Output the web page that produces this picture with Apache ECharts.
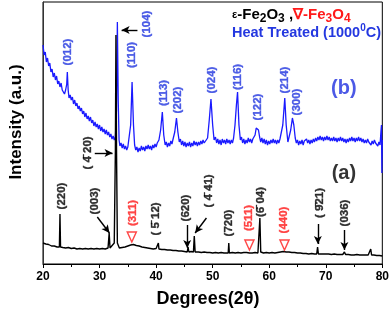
<!DOCTYPE html>
<html><head><meta charset="utf-8">
<script src="https://cdn.jsdelivr.net/npm/echarts@6/dist/echarts.min.js"></script>
<style>html,body{margin:0;padding:0;background:#fff}#c{width:392px;height:313px}</style>
</head><body><div id="c"></div>
<script>
// x tick labels
const xTicks = [20, 30, 40, 50, 60, 70, 80];
// Heat treated sample (b), [2theta, intensity a.u.]
const seriesB = [
[20.0,219],[20.2,209],[20.4,212],[20.6,202],[20.8,206],[21.0,198],[21.2,201],[21.4,192],[21.6,195],[21.8,187],
[22.0,191],[22.2,184],[22.4,188],[22.6,180],[22.8,183],[23.0,177],[23.2,181],[23.4,174],[23.6,176],[23.8,170],
[24.0,174],[24.2,180],[24.3,192],[24.45,174],[24.6,166],[24.8,169],[25.0,164],[25.2,167],[25.4,160],[25.6,164],
[25.8,158],[26.0,161],[26.2,155],[26.4,158],[26.6,153],[26.8,156],[27.0,150],[27.2,153],[27.4,147],[27.6,151],
[27.8,145],[28.0,148],[28.2,143],[28.4,147],[28.6,141],[28.8,144],[29.0,138],[29.2,142],[29.4,137],[29.6,140],
[29.8,135],[30.0,139],[30.2,133],[30.4,137],[30.6,132],[30.8,135],[31.0,130],[31.2,134],[31.4,129],[31.6,132],
[31.8,127],[32.0,130],[32.2,125],[32.4,128],[32.6,124],[32.8,127],[33.0,154],[33.15,242],[33.3,164],[33.45,124],
[33.6,118],[33.8,121],[34.0,116],[34.2,120],[34.4,115],[34.6,118],[34.8,114],[35.0,117],[35.2,119],[35.5,139],
[35.75,182],[36.0,139],[36.2,119],[36.4,114],[36.6,117],[36.8,112],[37.0,116],[37.2,113],[37.4,118],[37.6,114],
[37.8,117],[38.0,113],[38.2,118],[38.4,115],[38.6,119],[38.8,115],[39.0,118],[39.2,114],[39.4,119],[39.6,116],
[39.8,120],[40.0,117],[40.2,121],[40.5,124],[40.8,134],[41.1,152],[41.35,129],[41.6,119],[41.8,122],[42.0,117],
[42.2,121],[42.4,118],[42.6,123],[42.8,120],[43.0,125],[43.3,132],[43.6,146],[43.85,132],[44.1,122],[44.3,125],
[44.5,119],[44.7,123],[44.9,118],[45.1,122],[45.3,117],[45.5,121],[45.7,118],[45.9,122],[46.1,117],[46.3,121],
[46.5,118],[46.7,123],[46.9,119],[47.1,122],[47.3,118],[47.5,122],[47.7,119],[47.9,123],[48.1,120],[48.3,124],
[48.5,121],[48.8,122],[49.1,126],[49.4,144],[49.7,165],[50.0,139],[50.25,124],[50.5,127],[50.7,121],[50.9,125],
[51.1,120],[51.3,124],[51.5,119],[51.7,125],[51.9,121],[52.1,124],[52.3,120],[52.5,125],[52.7,121],[52.9,124],
[53.1,120],[53.3,124],[53.5,121],[53.7,126],[53.95,139],[54.2,159],[54.4,172],[54.65,139],[54.9,124],[55.1,127],
[55.3,121],[55.5,125],[55.7,120],[55.9,124],[56.1,121],[56.3,126],[56.5,122],[56.7,125],[56.9,121],[57.1,125],
[57.3,124],[57.5,129],[57.7,136],[57.9,138],[58.1,134],[58.3,127],[58.5,122],[58.7,126],[58.9,121],[59.1,125],
[59.3,120],[59.5,124],[59.7,119],[59.9,123],[60.1,120],[60.3,124],[60.5,121],[60.7,125],[60.9,121],[61.1,124],
[61.3,120],[61.5,124],[61.7,121],[61.9,125],[62.1,124],[62.4,139],[62.75,166],[63.0,139],[63.3,122],[63.55,124],
[63.8,134],[64.1,146],[64.35,139],[64.6,126],[64.8,121],[65.0,124],[65.2,119],[65.4,123],[65.6,120],[65.8,124],
[66.0,119],[66.2,123],[66.4,121],[66.6,125],[66.8,121],[67.0,124],[67.2,120],[67.4,124],[67.6,121],[67.8,125],
[68.0,122],[68.2,126],[68.4,123],[68.6,127],[68.8,124],[69.0,128],[69.2,124],[69.4,127],[69.6,123],[69.8,127],
[70.0,124],[70.2,128],[70.4,124],[70.6,127],[70.8,123],[71.0,126],[71.2,123],[71.4,127],[71.6,123],[71.8,126],
[72.0,122],[72.2,126],[72.4,123],[72.6,127],[72.8,123],[73.0,126],[73.2,122],[73.4,125],[73.6,121],[73.8,125],
[74.0,122],[74.2,126],[74.4,123],[74.6,127],[74.8,123],[75.0,126],[75.2,122],[75.4,126],[75.6,123],[75.8,127],
[76.0,123],[76.2,126],[76.4,122],[76.6,125],[76.8,121],[77.0,124],[77.2,121],[77.4,125],[77.6,122],[77.8,124],
[78.0,119],[78.2,123],[78.4,120],[78.6,124],[78.8,121],[79.0,123],[79.2,118],[79.4,122],[79.6,119],[79.75,132],
[79.85,139],[79.92,91],[80.0,124]
];
// As-prepared sample (a)
const seriesA = [
[20.0,21],[20.5,20],[21.0,19.5],[21.5,18],[22.0,18],[22.5,17],[22.9,17],[23.0,50],[23.1,17],[23.5,16.5],
[24.0,16],[24.5,16.5],[25.0,15.5],[25.5,16],[26.0,15],[26.5,15.5],[27.0,15],[27.5,15.5],[28.0,15],[28.5,15.5],
[29.0,15],[29.5,15.5],[30.0,15],[30.5,15.5],[31.0,15],[31.5,16],[31.7,31],[31.85,16],[32.2,17],[32.6,21],
[32.8,114],[32.9,229],[33.0,114],[33.15,21],[33.5,16],[34.0,16.5],[34.5,17],[35.0,18],[35.5,19],[36.0,19.5],
[36.5,18.5],[37.0,18],[37.5,17],[38.0,16.5],[38.5,16],[39.0,15.5],[39.5,15],[40.0,15.5],[40.3,15],[40.4,21],
[40.5,15],[41.0,14.5],[41.5,14.5],[42.0,14],[42.5,14],[43.0,13.5],[43.5,13.5],[44.0,13],[44.5,13],[45.0,12.5],
[45.5,12],[45.65,17],[45.8,12],[46.2,12.5],[46.6,12],[46.75,28],[46.9,12],[47.5,12],[48.0,11.5],[48.5,12],
[49.0,11.5],[49.5,11.5],[50.0,11],[50.5,11.5],[51.0,11],[51.5,11.5],[52.0,11],[52.75,11],[52.85,21],[52.95,11],
[53.5,11.5],[54.0,11],[54.5,11.5],[55.0,11],[55.5,11.5],[56.0,11.5],[56.5,11],[57.0,11],[57.5,11.5],[58.0,11],
[58.2,12],[58.35,46],[58.5,12],[59.0,11],[59.5,11.5],[60.0,11],[60.5,11.5],[61.0,11],[61.5,11.5],[62.0,12],
[62.5,12.5],[63.0,12],[63.5,12],[64.0,11.5],[64.5,11.5],[65.0,11],[65.5,11],[66.0,10.5],[66.5,10.5],[67.0,10],
[67.5,10.5],[68.0,10],[68.4,10],[68.55,17],[68.7,10],[69.0,10.5],[69.5,10],[70.0,10],[70.5,10],[71.0,9.5],
[71.5,10],[72.0,9.5],[72.5,9.5],[73.0,9.5],[73.3,12],[73.5,9.5],[74.0,9.5],[74.5,9],[75.0,9],[75.5,9.5],
[76.0,9],[76.5,9],[77.0,9],[77.5,9],[77.8,9],[77.95,15],[78.1,9],[78.5,9],[79.0,8.5],[79.5,8.5],[80.0,8]
];
// peak annotations: [2theta, intensity, text]
const labelsB = [[24.4,212,'(012)'],[38.3,240,'(104)'],[35.7,209,'(110)'],[41.3,171,'(113)'],[43.8,164,'(202)'],
[49.8,184,'(024)'],[54.4,187,'(116)'],[57.9,157,'(122)'],[62.8,184,'(214)'],[64.9,162,'(300)']];
const labelsA = [[23.3,68,'(220)'],[29.2,63,'(003)'],[28.0,111,'( 4\u0304 20)'],[40.0,45,'( 5\u0304 12)'],[45.3,56,'(620)'],
[49.4,73,'( 4\u0304 41)'],[52.8,41,'(720)'],[58.5,62,'(6\u0304 04)'],[68.9,61,'( 9\u030421)'],[73.3,51,'(036)']];
const labelsFe3O4 = [[35.9,51,'(311)'],[56.4,46,'(511)'],[62.6,44,'(440)']];
const triangles = [[35.7,27],[56.5,19],[62.7,19]];
const panelLabels = [[73.2,176,'(b)','#1f2fe0'],[73.2,91,'(a)','#000']];
// arrows: [[x1,y1],[x2,y2]]
const arrows = [[[36.7,234],[33.9,234]],[[29.15,111],[32.3,111]],[[29.6,47],[31.75,31]],[[45.5,39],[45.5,16]],
[[48.9,46],[46.9,31]],[[68.6,40],[68.6,20]],[[73.3,34],[73.3,14]]];

const BLUE = '#1a1aff', LBLUE = '#2438e0', RED = '#ff1a1a';
const F = 'Liberation Sans, Arial, sans-serif';
function rotLabels(arr, color){
  return arr.map(d => ({value:[d[0], d[1]], label:{show:true, formatter:d[2], color:color,
    fontSize:11.5, fontWeight:'bold', fontFamily:F, rotate:90, position:'inside',
    textBorderColor:color, textBorderWidth:0.35}}));
}
const chart = echarts.init(document.getElementById('c'));
chart.setOption({
  animation:false,
  grid:{left:43, right:8, top:2, bottom:49, show:true, borderColor:'#000', borderWidth:1},
  xAxis:{type:'value', min:20, max:80, interval:10,
    axisLine:{lineStyle:{color:'#000', width:1}},
    axisTick:{show:true, length:4, lineStyle:{color:'#000'}},
    minorTick:{show:true, splitNumber:2, length:3, lineStyle:{color:'#000'}},
    splitLine:{show:false},
    axisLabel:{color:'#000', fontWeight:'bold', fontSize:12, fontFamily:F, margin:7,
      formatter: v => xTicks.indexOf(v) >= 0 ? String(v) : ''}},
  yAxis:{type:'value', min:0, max:262, axisLabel:{show:false}, axisTick:{show:false}, splitLine:{show:false},
    axisLine:{show:true, lineStyle:{color:'#333'}}},
  graphic:[
    {type:'text', x:16, y:122, rotation:Math.PI/2, style:{text:'Intensity (a.u.)', font:'bold 17px '+F, fill:'#000', align:'center', verticalAlign:'middle'}},
    {type:'text', x:208, y:299, style:{text:'Degrees(2\u03b8)', font:'bold 18px '+F, fill:'#000', align:'center', verticalAlign:'middle'}},
    {type:'text', x:232, y:15, style:{
      text:'{e|\u03b5}{b|-Fe}{s|2}{b|O}{s|3}{b| ,}{r|\u2207-Fe}{rs|3}{r|O}{rs|4}', verticalAlign:'middle',
      rich:{e:{font:'bold 11px '+F, fill:'#000'}, b:{font:'bold 15px '+F, fill:'#000'},
        s:{font:'bold 12px '+F, fill:'#000', padding:[8,0,0,0]}, r:{font:'bold 15px '+F, fill:RED},
        rs:{font:'bold 12px '+F, fill:RED, padding:[8,0,0,0]}}}},
    {type:'text', x:232, y:33, style:{
      text:'{b|Heat Treated (1000}{p|0}{b|C)}', verticalAlign:'middle',
      rich:{b:{font:'bold 14.5px '+F, fill:LBLUE}, p:{font:'bold 10px '+F, fill:LBLUE, padding:[0,0,9,0]}}}}
  ],
  series:[
    {type:'line', data:seriesA, showSymbol:false, lineStyle:{color:'#000', width:1.4}, z:3,
     markLine:{silent:true, symbol:['none','arrow'], symbolSize:[6,8], label:{show:false},
       lineStyle:{color:'#000', width:1.4, type:'solid'},
       data:arrows.map(a => [{coord:a[0]},{coord:a[1]}])}},
    {type:'line', data:seriesB, showSymbol:false, lineStyle:{color:BLUE, width:1.3}, z:2},
    {type:'scatter', symbolSize:0, z:5, label:{show:true, position:'inside', rotate:90},
     data:rotLabels(labelsB, LBLUE).concat(rotLabels(labelsA, '#000')).concat(rotLabels(labelsFe3O4, RED))},
    {type:'scatter', symbol:'triangle', symbolRotate:180, symbolSize:[9,10], z:5,
     itemStyle:{color:'rgba(0,0,0,0)', borderColor:RED, borderWidth:1.5}, data:triangles},
    {type:'scatter', symbolSize:0, z:5, label:{show:true, position:'inside', fontSize:20, fontWeight:'bold', fontFamily:F},
     data:panelLabels.map(d => ({value:[d[0], d[1]], label:{formatter:d[2], color:d[3]}}))}
  ]
});
</script></body></html>
